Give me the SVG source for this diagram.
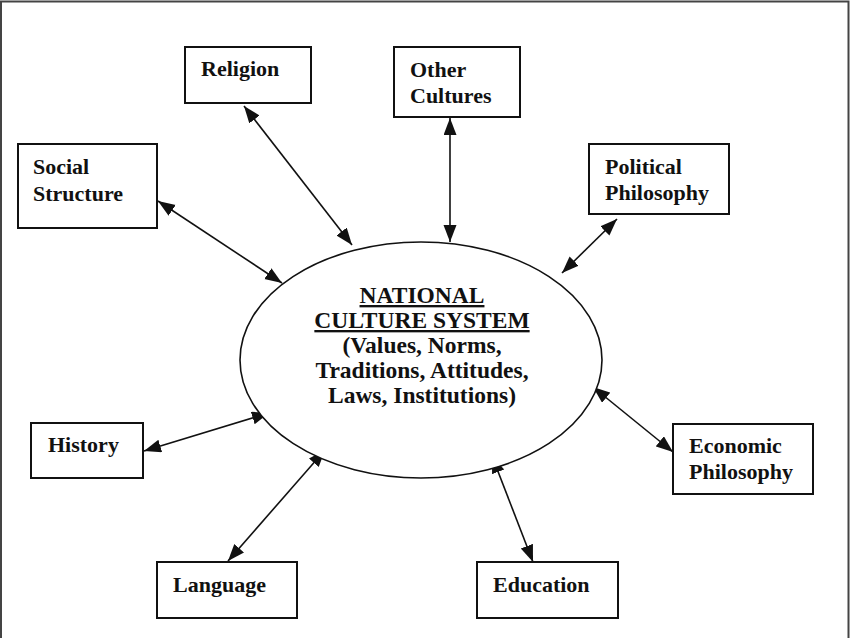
<svg xmlns="http://www.w3.org/2000/svg" width="850" height="638" viewBox="0 0 850 638">
<style>
.box{fill:#fff;stroke:#111;stroke-width:2}
.t{font-family:"Liberation Serif","Times New Roman",serif;font-weight:bold;font-size:22px;fill:#111}
.c{font-family:"Liberation Serif","Times New Roman",serif;font-weight:bold;font-size:23.5px;fill:#111;text-anchor:middle}
.ln{stroke:#111;stroke-width:1.6;fill:none;marker-start:url(#ah);marker-end:url(#ah)}
</style>
<defs>
<marker id="ah" markerUnits="userSpaceOnUse" markerWidth="18" markerHeight="14" refX="17" refY="6.5" orient="auto-start-reverse">
<path d="M0,0 L17,6.5 L0,13 z" fill="#111"/>
</marker>
</defs>
<rect width="850" height="638" fill="#fff"/>
<path d="M1,640 V1.5 H848.5 V640" fill="none" stroke="#444" stroke-width="2"/>
<g id="connectors">
<line class="ln" x1="244" y1="106" x2="352" y2="245"/>
<line class="ln" x1="450" y1="118" x2="450" y2="242"/>
<line class="ln" x1="158" y1="201" x2="282" y2="283"/>
<line class="ln" x1="617" y1="219" x2="562" y2="273"/>
<line class="ln" x1="144" y1="451" x2="269" y2="413"/>
<line class="ln" x1="228" y1="561" x2="325" y2="450"/>
<line class="ln" x1="492" y1="456" x2="533" y2="562"/>
<line class="ln" x1="593" y1="387" x2="673" y2="452"/>
</g>
<g id="center">
<ellipse cx="421" cy="360" rx="181" ry="118" fill="#fff" stroke="#111" stroke-width="1.6"/>
<text class="c" x="422" y="303" text-decoration="underline">NATIONAL</text>
<text class="c" x="422" y="328" text-decoration="underline">CULTURE SYSTEM</text>
<text class="c" x="422" y="353">(Values, Norms,</text>
<text class="c" x="422" y="378">Traditions, Attitudes,</text>
<text class="c" x="422" y="403">Laws, Institutions)</text>
</g>
<g id="religion"><rect class="box" x="185" y="47" width="126" height="56"/><text class="t" x="201" y="76">Religion</text></g>
<g id="other-cultures"><rect class="box" x="394" y="47" width="126" height="70"/><text class="t" x="410" y="77">Other</text><text class="t" x="410" y="103">Cultures</text></g>
<g id="social-structure"><rect class="box" x="18" y="144" width="139" height="84"/><text class="t" x="33" y="174">Social</text><text class="t" x="33" y="201">Structure</text></g>
<g id="political-philosophy"><rect class="box" x="589" y="144" width="140" height="70"/><text class="t" x="605" y="174">Political</text><text class="t" x="605" y="200">Philosophy</text></g>
<g id="history"><rect class="box" x="31" y="423" width="112" height="55"/><text class="t" x="48" y="452">History</text></g>
<g id="language"><rect class="box" x="157" y="562" width="140" height="56"/><text class="t" x="173" y="592">Language</text></g>
<g id="economic-philosophy"><rect class="box" x="673" y="424" width="140" height="70"/><text class="t" x="689" y="453">Economic</text><text class="t" x="689" y="479">Philosophy</text></g>
<g id="education"><rect class="box" x="477" y="562" width="141" height="56"/><text class="t" x="493" y="592">Education</text></g>
</svg>
